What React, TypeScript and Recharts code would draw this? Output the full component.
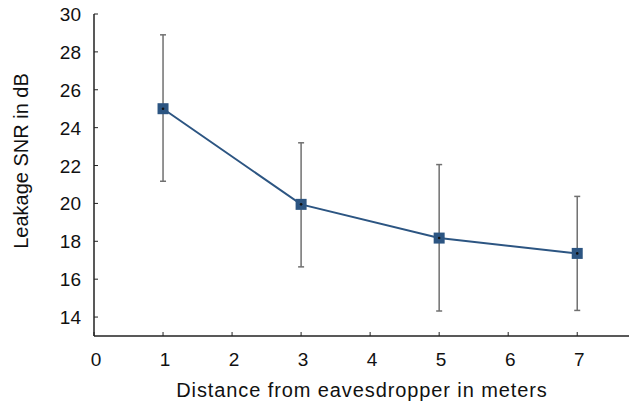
import React from 'react';
import { ErrorBar, Label, Line, LineChart, XAxis, YAxis } from 'recharts';

const distances = [1, 3, 5, 7];
const snrMean = [25.0, 19.95, 18.17, 17.36];
const snrLow = [21.17, 16.65, 14.32, 14.35];
const snrHigh = [28.9, 23.2, 22.05, 20.37];
const xTicks = [0, 1, 2, 3, 4, 5, 6, 7];
const yTicks = [14, 16, 18, 20, 22, 24, 26, 28, 30];

const data = distances.map((d, i) => ({
  distance: d,
  snr: snrMean[i],
  err: [snrMean[i] - snrLow[i], snrHigh[i] - snrMean[i]],
}));

const font = 'Liberation Sans, Arial, Helvetica, sans-serif';

function XTick(props: any) {
  const { x, y, payload } = props;
  return (
    <g>
      <line x1={x} y1={y} x2={x} y2={y - 4} stroke="#222" strokeWidth={1} />
      <text x={x + 2} y={y + 30} textAnchor="middle" fontSize={19} fontFamily={font} fill="#111">
        {payload.value}
      </text>
    </g>
  );
}

function YTick(props: any) {
  const { x, y, payload } = props;
  return (
    <g>
      <line x1={x} y1={y} x2={x + 4} y2={y} stroke="#222" strokeWidth={1} />
      <text x={x - 13} y={y + 7} textAnchor="end" fontSize={19} fontFamily={font} fill="#111">
        {payload.value}
      </text>
    </g>
  );
}

function Marker(props: any) {
  const { cx, cy } = props;
  return (
    <g>
      <rect x={cx - 5.5} y={cy - 5.5} width={11} height={11} fill="#2c5582" />
      <circle cx={cx} cy={cy} r={1.3} fill="#111" />
    </g>
  );
}

function XLabel() {
  return (
    <text x={362} y={397} textAnchor="middle" fontSize={20} letterSpacing={0.9} fontFamily={font} fill="#111">
      Distance from eavesdropper in meters
    </text>
  );
}

function YLabel() {
  return (
    <text
      x={0}
      y={0}
      transform="translate(28, 161) rotate(-90)"
      textAnchor="middle"
      fontSize={20}
      fontFamily={font}
      fill="#111"
    >
      Leakage SNR in dB
    </text>
  );
}

export default function App() {
  return (
    <div style={{ position: 'absolute', left: 0, top: 0, background: '#fff' }}>
      <LineChart width={629} height={406} data={data} margin={{ top: 14, right: 0, bottom: 0, left: 0 }}>
        <XAxis
          dataKey="distance"
          type="number"
          domain={[0, 7.75]}
          ticks={xTicks}
          height={70}
          tick={<XTick />}
          tickLine={false}
          tickSize={0}
          tickMargin={0}
          axisLine={{ stroke: '#222', strokeWidth: 1.5 }}
          allowDataOverflow
        >
          <Label content={<XLabel />} />
        </XAxis>
        <YAxis
          type="number"
          domain={[13, 30]}
          ticks={yTicks}
          width={94}
          tick={<YTick />}
          tickLine={false}
          tickSize={0}
          tickMargin={0}
          axisLine={{ stroke: '#222', strokeWidth: 1.5 }}
          allowDataOverflow
        >
          <Label content={<YLabel />} />
        </YAxis>
        <Line
          dataKey="snr"
          stroke="#2c5582"
          strokeWidth={2}
          dot={<Marker />}
          activeDot={false}
          isAnimationActive={false}
        >
          <ErrorBar dataKey="err" width={3} stroke="#707070" strokeWidth={1.5} direction="y" />
        </Line>
      </LineChart>
    </div>
  );
}
